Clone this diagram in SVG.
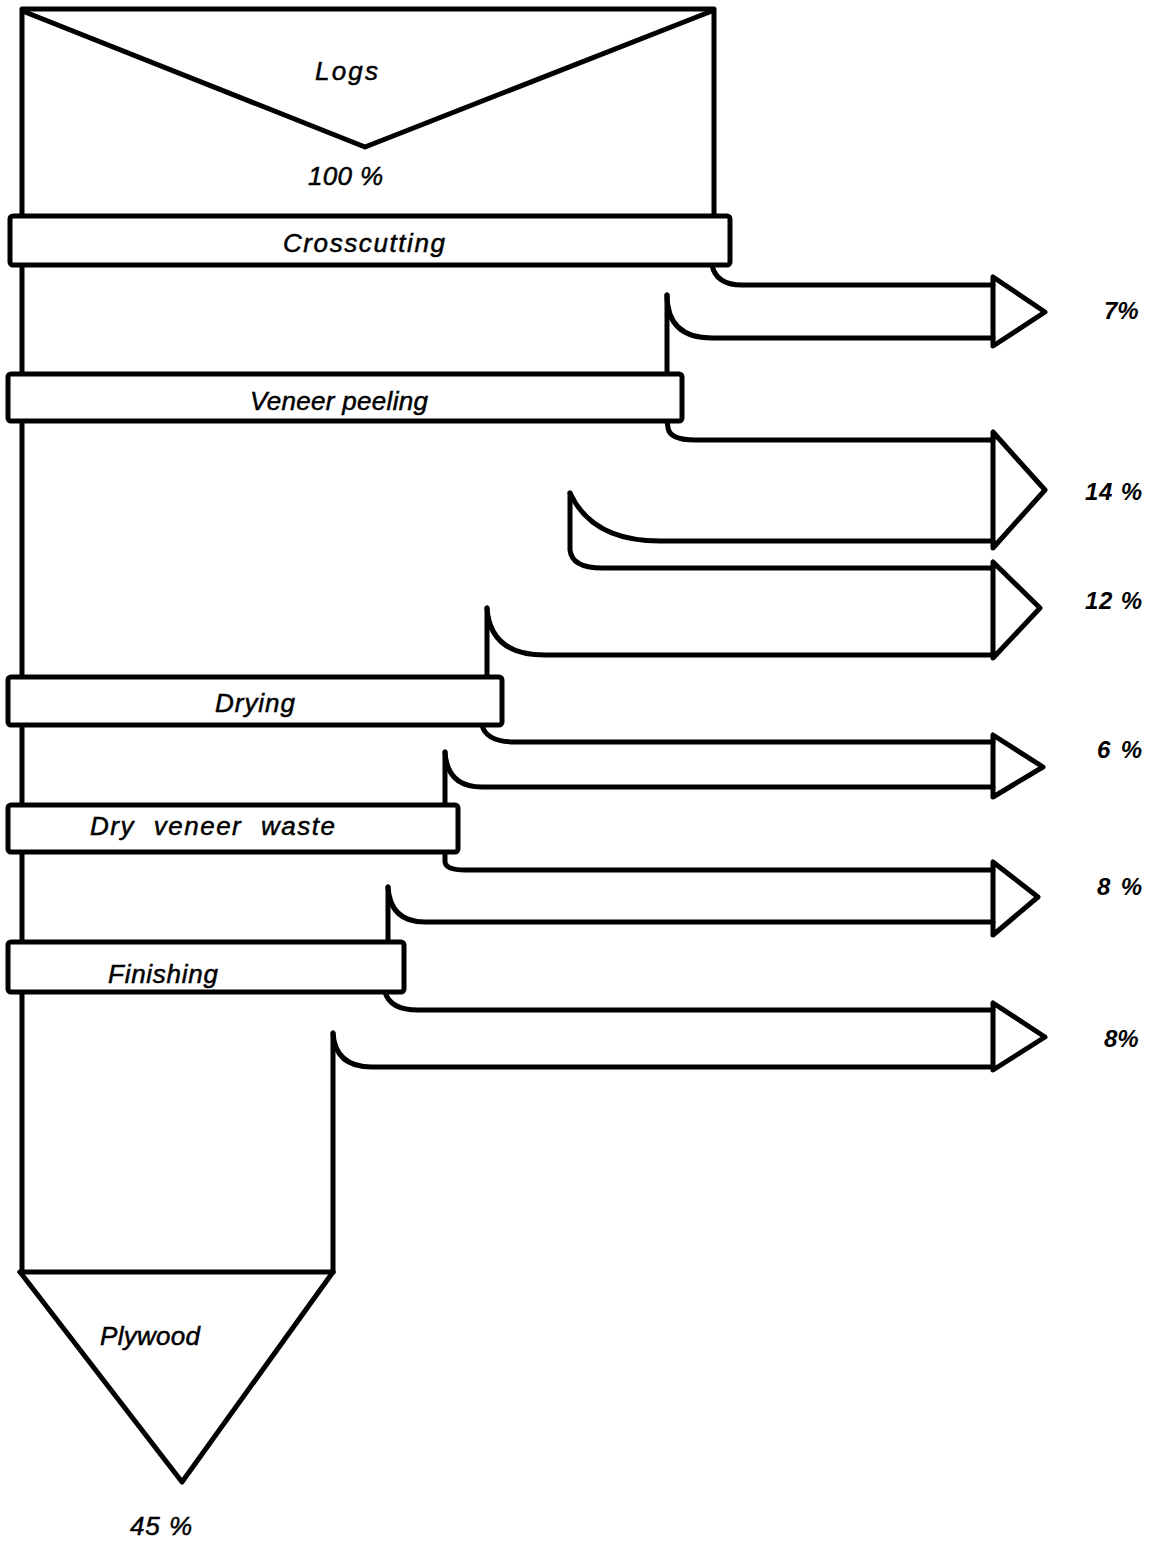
<svg xmlns="http://www.w3.org/2000/svg" width="1151" height="1542" viewBox="0 0 1151 1542">
<style>
.s{fill:none;stroke:#000;stroke-width:5;stroke-linecap:round;stroke-linejoin:round}
.b{fill:#fff;stroke:#000;stroke-width:5;stroke-linejoin:round}
.t{font-family:"Liberation Sans",Arial,sans-serif;font-style:italic;font-size:26px;fill:#000;stroke:#000;stroke-width:0.5}
.p{font-family:"Liberation Sans",Arial,sans-serif;font-style:italic;font-weight:bold;font-size:24px;fill:#000}
</style>
<rect width="1151" height="1542" fill="#fff"/>
<g id="logs">
<path class="s" d="M22,215 L22,9 L714,9 L714,215"/>
<path class="s" d="M25,12 L365,147 L712,11"/>
<text class="t" x="315" y="80" textLength="63">Logs</text>
<text class="t" x="308" y="185" textLength="75">100 %</text>
</g>
<g id="stem">
<path class="s" d="M22,265 L22,1272"/>
<path class="s" d="M20,1272 L333,1272"/>
</g>
<g id="connectors">
<!-- 7% -->
<path class="s" d="M712,265 Q716,285 742,285 L993,285"/>
<path class="s" d="M667,295 Q667,338 712,338 L993,338"/>
<path class="s" d="M667,295 L667,372"/>
<path class="s" d="M993,277 L993,346 L1045,312 Z"/>
<!-- 14% -->
<path class="s" d="M667,420 L668,428 Q670,440 695,440 L993,440"/>
<path class="s" d="M570,493 Q592,541 660,541 L993,541"/>
<path class="s" d="M993,432 L993,548 L1045,490 Z"/>
<!-- 12% -->
<path class="s" d="M570,493 L570,550 Q572,568 602,568 L993,568"/>
<path class="s" d="M487,608 Q490,655 545,655 L993,655"/>
<path class="s" d="M487,608 L487,677"/>
<path class="s" d="M993,562 L993,658 L1040,608 Z"/>
<!-- 6% -->
<path class="s" d="M482,725 Q486,742 515,742 L993,742"/>
<path class="s" d="M445,752 Q447,787 482,787 L993,787"/>
<path class="s" d="M445,752 L445,805"/>
<path class="s" d="M993,735 L993,797 L1043,767 Z"/>
<!-- 8% -->
<path class="s" d="M445,852 L445,862 Q446,870 465,870 L993,870"/>
<path class="s" d="M388,887 Q390,922 425,922 L993,922"/>
<path class="s" d="M388,887 L388,942"/>
<path class="s" d="M993,862 L993,935 L1038,897 Z"/>
<!-- 8% -->
<path class="s" d="M385,992 Q390,1010 418,1010 L993,1010"/>
<path class="s" d="M333,1033 Q335,1067 372,1067 L993,1067"/>
<path class="s" d="M333,1033 L333,1272"/>
<path class="s" d="M993,1003 L993,1070 L1045,1037 Z"/>
</g>
<g id="crosscutting">
<rect class="b" x="10" y="216" width="720" height="49" rx="3"/>
<text class="t" x="283" y="252" textLength="162">Crosscutting</text>
</g>
<g id="veneer-peeling">
<rect class="b" x="8" y="374" width="674" height="47" rx="3"/>
<text class="t" x="250" y="410" textLength="178">Veneer peeling</text>
</g>
<g id="drying">
<rect class="b" x="8" y="677" width="494" height="48" rx="3"/>
<text class="t" x="215" y="712" textLength="80">Drying</text>
</g>
<g id="dry-veneer-waste">
<rect class="b" x="8" y="805" width="450" height="47" rx="3"/>
<text class="t" x="90" y="835" textLength="245" style="word-spacing:10px">Dry veneer waste</text>
</g>
<g id="finishing">
<rect class="b" x="8" y="942" width="396" height="50" rx="3"/>
<text class="t" x="108" y="983" textLength="110">Finishing</text>
</g>
<g id="plywood">
<path class="s" d="M20,1272 L182,1482 L333,1272"/>
<text class="t" x="100" y="1345" textLength="100">Plywood</text>
<text class="t" x="130" y="1535" textLength="62">45 %</text>
</g>
<g id="labels">
<text class="p" x="1104" y="319">7%</text>
<text class="p" x="1085" y="500" textLength="57">14 %</text>
<text class="p" x="1085" y="609" textLength="57">12 %</text>
<text class="p" x="1097" y="758" textLength="45">6 %</text>
<text class="p" x="1097" y="895" textLength="45">8 %</text>
<text class="p" x="1104" y="1047">8%</text>
</g>
</svg>
